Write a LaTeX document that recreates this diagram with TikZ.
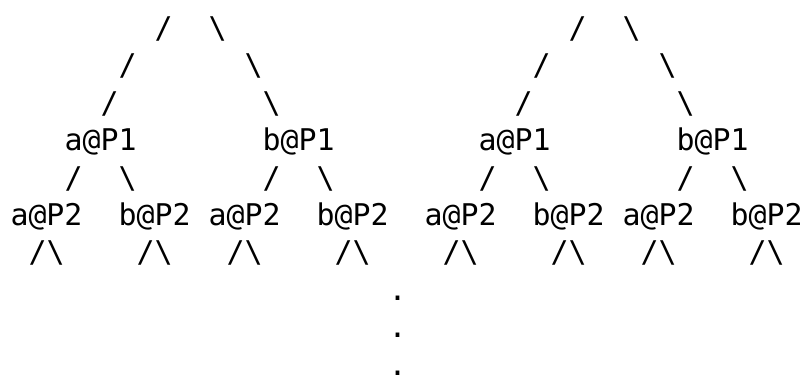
\documentclass[tikz,border=0pt]{standalone}
\usepackage{fontspec}
\setmonofont{DejaVu Sans Mono}

% one character cell of the text grid: 18pt wide, 37.4pt line pitch
\newcommand\putcell[4]{%
  \node[cell] (#1) at ({10.5+18*#2},{38.5+37.4*(#3-1)}) {#4};}
\newcommand\fwd{/}
\newcommand\bwd{\textbackslash}

\begin{document}
\begin{tikzpicture}[x=1pt,y=-1pt,
  cell/.style={anchor=base west, inner sep=0pt, outer sep=0pt,
               font=\ttfamily\fontsize{29.9}{37.4}\selectfont}]
\useasboundingbox (0,0) rectangle (805,375);

% upper branches of the two trees
\putcell{r1a}{8}{1}{\fwd}   \putcell{r1b}{11}{1}{\bwd}
\putcell{r1c}{31}{1}{\fwd}  \putcell{r1d}{34}{1}{\bwd}
\putcell{r2a}{6}{2}{\fwd}   \putcell{r2b}{13}{2}{\bwd}
\putcell{r2c}{29}{2}{\fwd}  \putcell{r2d}{36}{2}{\bwd}
\putcell{r3a}{5}{3}{\fwd}   \putcell{r3b}{14}{3}{\bwd}
\putcell{r3c}{28}{3}{\fwd}  \putcell{r3d}{37}{3}{\bwd}

% first level
\putcell{p1a}{3}{4}{a@P1}   \putcell{p1b}{14}{4}{b@P1}
\putcell{p1c}{26}{4}{a@P1}  \putcell{p1d}{37}{4}{b@P1}

\putcell{r5a}{3}{5}{\fwd}   \putcell{r5b}{6}{5}{\bwd}
\putcell{r5c}{14}{5}{\fwd}  \putcell{r5d}{17}{5}{\bwd}
\putcell{r5e}{26}{5}{\fwd}  \putcell{r5f}{29}{5}{\bwd}
\putcell{r5g}{37}{5}{\fwd}  \putcell{r5h}{40}{5}{\bwd}

% second level
\putcell{p2a}{0}{6}{a@P2}   \putcell{p2b}{6}{6}{b@P2}
\putcell{p2c}{11}{6}{a@P2}  \putcell{p2d}{17}{6}{b@P2}
\putcell{p2e}{23}{6}{a@P2}  \putcell{p2f}{29}{6}{b@P2}
\putcell{p2g}{34}{6}{a@P2}  \putcell{p2h}{40}{6}{b@P2}

\putcell{r7a}{1}{7}{\fwd\bwd}   \putcell{r7b}{7}{7}{\fwd\bwd}
\putcell{r7c}{12}{7}{\fwd\bwd}  \putcell{r7d}{18}{7}{\fwd\bwd}
\putcell{r7e}{24}{7}{\fwd\bwd}  \putcell{r7f}{30}{7}{\fwd\bwd}
\putcell{r7g}{35}{7}{\fwd\bwd}  \putcell{r7h}{41}{7}{\fwd\bwd}

% continuation dots
\putcell{d1}{21}{8}{.}
\putcell{d2}{21}{9}{.}
\putcell{d3}{21}{10}{.}
\end{tikzpicture}
\end{document}
